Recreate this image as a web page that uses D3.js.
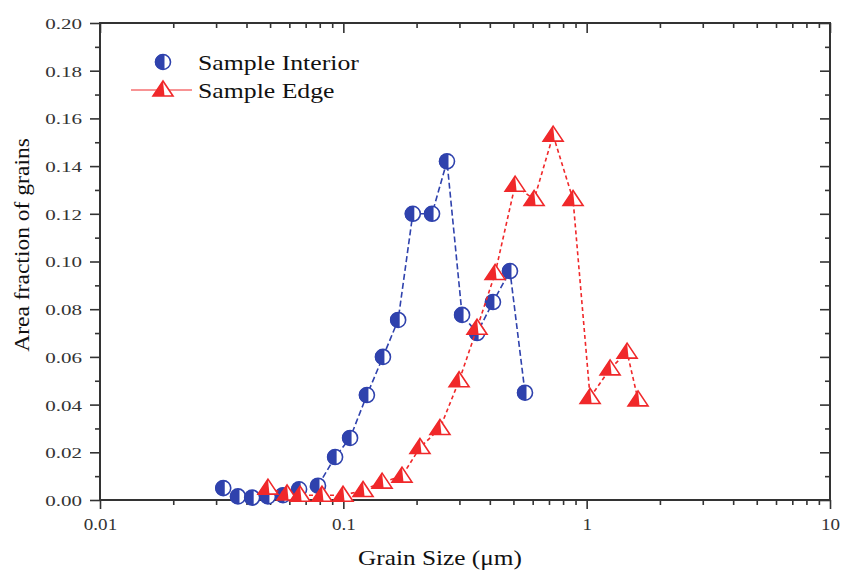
<!DOCTYPE html>
<html>
<head>
<meta charset="utf-8">
<script src="https://cdn.jsdelivr.net/npm/d3@7"></script>
<style>
  body { margin: 0; background: #fff; }
  svg { display: block; }
  svg text { font-family: "Liberation Serif", "Times New Roman", serif; }
</style>
</head>
<body>
<svg id="chart" width="843" height="573"></svg>
<script>
// grain size (um) and area fraction for each sample region
var interiorSize = [0.0321, 0.0369, 0.0422, 0.0490, 0.0565, 0.0658, 0.0787, 0.0925, 0.1066, 0.125,
    0.1455, 0.168, 0.193, 0.2315, 0.2667, 0.3076, 0.3546, 0.412, 0.484, 0.558]
var interiorFrac = [0.005, 0.0015, 0.001, 0.0015, 0.002, 0.0045, 0.006, 0.018, 0.026, 0.044,
    0.060, 0.0755, 0.120, 0.120, 0.142, 0.0776, 0.070, 0.083, 0.096, 0.045]

var edgeSize = [0.0490, 0.0587, 0.0664, 0.0817, 0.0997, 0.1205, 0.1443, 0.1742, 0.2065, 0.2495,
    0.299, 0.3543, 0.4204, 0.508, 0.608, 0.728, 0.879, 1.033, 1.248, 1.466, 1.626]
var edgeFrac = [0.005, 0.0025, 0.002, 0.002, 0.002, 0.004, 0.0075, 0.010, 0.022, 0.030,
    0.050, 0.072, 0.095, 0.132, 0.126, 0.153, 0.126, 0.043, 0.055, 0.062, 0.042]

var xTicks = [0.01, 0.1, 1, 10]
var yTicks = [0, 0.02, 0.04, 0.06, 0.08, 0.10, 0.12, 0.14, 0.16, 0.18, 0.20]

var blue = "#2f42ad"
var red = "#f0282a"

// plot box
var pLeft = 100, pRight = 830, pTop = 23, pBottom = 500

var svg = d3.select("#chart")

var x = d3.scaleLog().domain([0.01, 10]).range([pLeft, pRight])
var y = d3.scaleLinear().domain([0, 0.2]).range([pBottom, pTop])

// minor ticks: 2..9 in each decade, and every 0.01 on y
var xMinor = []
for (var d = 0.01; d < 10; d *= 10) {
    for (var k = 2; k <= 9; k++) xMinor.push(d * k)
}
var yMinor = d3.range(0.01, 0.2, 0.02)

var fmtY = d3.format(".2f")
var fmtX = function (v) { return v >= 1 ? d3.format("d")(v) : String(v) }

// stretch text horizontally a little
function widen(sel, f) {
    sel.each(function () {
        var w = this.getComputedTextLength()
        d3.select(this).attr("textLength", w * f).attr("lengthAdjust", "spacingAndGlyphs")
    })
}

var axisColor = "#333"

// left axis (ticks outward)
var gl = svg.append("g").attr("transform", "translate(" + pLeft + ",0)")
gl.call(d3.axisLeft(y).tickValues(yTicks).tickSize(10).tickFormat(fmtY).tickSizeOuter(0))
gl.append("g").call(d3.axisLeft(y).tickValues(yMinor).tickSize(5).tickFormat("").tickSizeOuter(0))

// bottom axis (ticks outward)
var gb = svg.append("g").attr("transform", "translate(0," + pBottom + ")")
gb.call(d3.axisBottom(x).tickValues(xTicks).tickSize(9).tickFormat(fmtX).tickSizeOuter(0))
gb.append("g").call(d3.axisBottom(x).tickValues(xMinor).tickSize(5).tickFormat("").tickSizeOuter(0))

// top axis (ticks inward)
var gt = svg.append("g").attr("transform", "translate(0," + pTop + ")")
gt.call(d3.axisBottom(x).tickValues(xTicks).tickSize(10).tickFormat("").tickSizeOuter(0))
gt.append("g").call(d3.axisBottom(x).tickValues(xMinor).tickSize(5).tickFormat("").tickSizeOuter(0))

// right axis (ticks inward)
var gr = svg.append("g").attr("transform", "translate(" + pRight + ",0)")
gr.call(d3.axisLeft(y).tickValues(yTicks).tickSize(10).tickFormat("").tickSizeOuter(0))
gr.append("g").call(d3.axisLeft(y).tickValues(yMinor).tickSize(5).tickFormat("").tickSizeOuter(0))

svg.selectAll(".domain").remove()
svg.selectAll(".tick line").attr("stroke", axisColor).attr("stroke-width", 1.6)

// frame
svg.append("rect")
    .attr("x", pLeft).attr("y", pTop)
    .attr("width", pRight - pLeft).attr("height", pBottom - pTop)
    .attr("fill", "none").attr("stroke", axisColor).attr("stroke-width", 2)

gl.selectAll(".tick text")
    .attr("x", -18).attr("dy", "0.36em")
    .style("font-size", "15px").attr("fill", "#333")
widen(gl.selectAll(".tick text"), 1.4)

gb.selectAll(".tick text")
    .attr("y", 18).attr("dy", "0.71em")
    .style("font-size", "17px").attr("fill", "#333")
widen(gb.selectAll(".tick text"), 1.12)

// axis titles
var xt = svg.append("text")
    .attr("x", 440).attr("y", 565)
    .attr("text-anchor", "middle")
    .style("font-size", "22px").attr("fill", "#111")
    .text("Grain Size (μm)")
widen(xt, 1.15)

var yt = svg.append("text")
    .attr("transform", "translate(29,245) rotate(-90)")
    .attr("text-anchor", "middle")
    .style("font-size", "22px").attr("fill", "#111")
    .text("Area fraction of grains")
widen(yt, 1.07)

// markers: half filled circle and half filled triangle
var cr = 7.5
function circleMark(g, cx, cy) {
    g.append("circle").attr("cx", cx).attr("cy", cy).attr("r", cr)
        .attr("fill", "#fff").attr("stroke", blue).attr("stroke-width", 1.6)
    g.append("path")
        .attr("d", "M" + (cx + 1.5) + "," + (cy - cr + 0.3) +
            " A" + cr + "," + cr + " 0 1,0 " + (cx + 1.5) + "," + (cy + cr - 0.3) + " Z")
        .attr("fill", blue)
}
var tw = 10, th = 15
function triMark(g, cx, cy) {
    var ty = cy - th * 0.6, by = cy + th * 0.4
    g.append("path")
        .attr("d", "M" + cx + "," + ty + "L" + (cx + tw) + "," + by + "L" + (cx - tw) + "," + by + "Z")
        .attr("fill", "#fff").attr("stroke", red).attr("stroke-width", 1.6).attr("stroke-linejoin", "miter")
    g.append("path")
        .attr("d", "M" + cx + "," + ty + "L" + (cx + 1.5) + "," + by + "L" + (cx - tw) + "," + by + "Z")
        .attr("fill", red)
}

var line = d3.line()
    .x(function (d) { return x(d[0]) })
    .y(function (d) { return y(d[1]) })

var interior = d3.zip(interiorSize, interiorFrac)
var edge = d3.zip(edgeSize, edgeFrac)

svg.append("path").datum(interior)
    .attr("d", line).attr("fill", "none")
    .attr("stroke", blue).attr("stroke-width", 1.6).attr("stroke-dasharray", "6,3")

var gi = svg.append("g")
interior.forEach(function (d) { circleMark(gi, x(d[0]), y(d[1])) })

svg.append("path").datum(edge)
    .attr("d", line).attr("fill", "none")
    .attr("stroke", red).attr("stroke-width", 1.6).attr("stroke-dasharray", "4,3")

var ge = svg.append("g")
edge.forEach(function (d) { triMark(ge, x(d[0]), y(d[1])) })

// legend
var lg = svg.append("g")
circleMark(lg, 163, 62)
lg.append("line").attr("x1", 131).attr("x2", 192).attr("y1", 90).attr("y2", 90)
    .attr("stroke", red).attr("stroke-width", 1)
triMark(lg, 163, 90)
var l1 = lg.append("text").attr("x", 198).attr("y", 70)
    .style("font-size", "22px").attr("fill", "#111").text("Sample Interior")
var l2 = lg.append("text").attr("x", 198).attr("y", 98)
    .style("font-size", "22px").attr("fill", "#111").text("Sample Edge")
widen(l1, 1.17)
widen(l2, 1.17)
</script>
</body>
</html>
